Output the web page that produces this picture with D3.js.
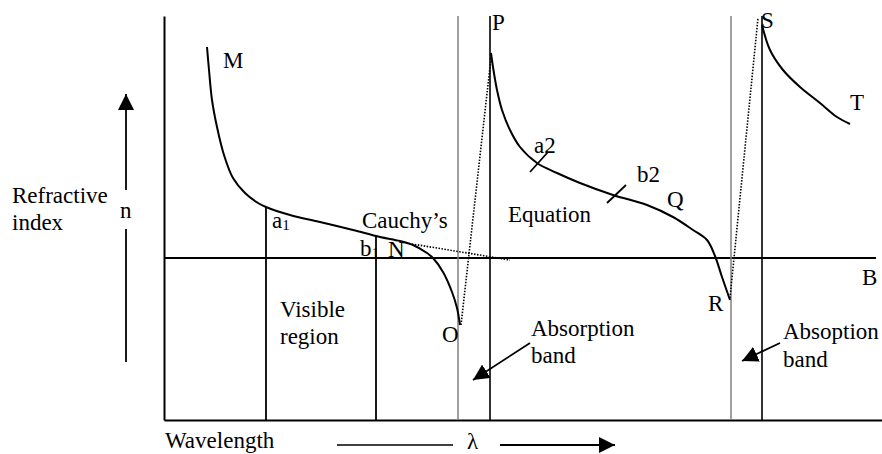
<!DOCTYPE html>
<html><head><meta charset="utf-8">
<script src="https://cdn.jsdelivr.net/npm/d3@7"></script>
<style>
html,body{margin:0;padding:0;background:#fff;}
svg{display:block;}
text{font-family:"Liberation Serif","Times New Roman",serif;font-size:23px;fill:#000;}
</style></head>
<body>
<script>
// ---- data (λ, n) in arbitrary schematic units ----
const curveMN_O = [[43,373],[45,350],[48,320],[53,293],[60,265],[69,242],[81,227],[94,217],[102,213],[126,205],[156,198],[189,190],[216,183],[236,179],[249,175],[263,167],[269,162],[279,148],[288,128],[293,112],[296,95]];
const curvePQR = [[327,367],[329,353],[333,330],[338,310],[346,290],[356,273],[373,257],[393,247],[416,237],[449,225],[483,215],[509,203],[529,190],[543,180],[551,164],[558,143],[566,120]];
const curveST = [[598,395],[606,370],[619,350],[636,333],[656,317],[673,303],[686,296]];
const cauchyExtension = [[236,178],[346,160]];
const jumpOP = [[297,95],[327,362]];
const jumpRS = [[566,122],[594,402]];
const baselineN = 162;                       // horizontal reference line
const verticalMarks = [{l:102,top:213,gray:false},{l:212,top:184,gray:false}];
const bandEdges = [{l:294,gray:true},{l:326,gray:false},{l:567,gray:true},{l:598,gray:false}];
const tickMarks = [[[366,248],[384,268]],[[443,217],[462,235]]];

const W = 882, H = 454;
const x = d3.scaleLinear().domain([0,712]).range([164,876]);
const y = d3.scaleLinear().domain([0,404]).range([420,16]);

const svg = d3.select("body").append("svg").attr("width",W).attr("height",H);
const defs = svg.append("defs");
defs.append("marker").attr("id","ah").attr("viewBox","0 0 10 10").attr("refX",10).attr("refY",5)
  .attr("markerWidth",16).attr("markerHeight",16).attr("markerUnits","userSpaceOnUse").attr("orient","auto")
  .append("path").attr("d","M0,0 L10,5 L0,10 Z").attr("fill","#000");

// axes (no ticks)
svg.append("g").attr("transform",`translate(${x(0)},0)`)
  .call(d3.axisLeft(y).tickValues([]).tickSizeOuter(0))
  .select(".domain").attr("stroke","#000").attr("stroke-width",2);
svg.append("g").attr("transform",`translate(0,${y(0)})`)
  .call(d3.axisBottom(x.copy().domain([0,718]).range([164,882])).tickValues([]).tickSizeOuter(0))
  .select(".domain").attr("stroke","#000").attr("stroke-width",2);
// horizontal reference line
svg.append("line").attr("x1",x(0)).attr("x2",x(712)).attr("y1",y(baselineN)).attr("y2",y(baselineN))
  .attr("stroke","#000").attr("stroke-width",1.8);

// band edges
svg.selectAll(".band").data(bandEdges).join("line")
  .attr("x1",d=>x(d.l)).attr("x2",d=>x(d.l)).attr("y1",y(404)).attr("y2",y(0))
  .attr("stroke",d=>d.gray?"#808080":"#000").attr("stroke-width",d=>d.gray?1.5:1.6);
// visible region marks
svg.selectAll(".vm").data(verticalMarks).join("line")
  .attr("x1",d=>x(d.l)).attr("x2",d=>x(d.l)).attr("y1",d=>y(d.top)).attr("y2",y(0))
  .attr("stroke","#000").attr("stroke-width",1.8);

const line = d3.line().x(d=>x(d[0])).y(d=>y(d[1])).curve(d3.curveCatmullRom.alpha(0.5));
[curveMN_O,curvePQR,curveST].forEach(c=>{
  svg.append("path").attr("d",line(c)).attr("fill","none").attr("stroke","#000").attr("stroke-width",2);
});
const straight = d3.line().x(d=>x(d[0])).y(d=>y(d[1]));
[cauchyExtension,jumpOP,jumpRS].forEach(c=>{
  svg.append("path").attr("d",straight(c)).attr("fill","none").attr("stroke","#000")
    .attr("stroke-width",1.6).attr("stroke-dasharray","1.5,1.5");
});
tickMarks.forEach(c=>{
  svg.append("path").attr("d",straight(c)).attr("fill","none").attr("stroke","#000").attr("stroke-width",1.8);
});

// labels
const labels = [
  ["M",223,68],["P",492,30],["S",761,28],["T",850,110],["a2",534,153],["b2",637,182],["Q",667,207],
  ["Equation",508,222],["Cauchy’s",362,228],["N",388,257],["B",862,285],["R",708,311],["O",442,342],
  ["Visible",280,317],["region",280,344],["Absorption",531,336],["band",531,363],
  ["Absoption",783,339],["band",783,367],["Refractive",12,203],["index",12,230],["n",120,218],
  ["Wavelength",165,448],["λ",467,449]
];
svg.selectAll(".lbl").data(labels).join("text").attr("x",d=>d[1]).attr("y",d=>d[2]).text(d=>d[0]);
const sub = [["a",272,228],["b",360,256]];
sub.forEach(s=>{
  const t = svg.append("text").attr("x",s[1]).attr("y",s[2]).text(s[0]);
  t.append("tspan").attr("font-size","15px").attr("dy",2).text("1");
});

// arrows
const arrows = [[[126,362],[126,94]],[[337,445],[453,445]],[[500,445],[615,445]],[[530,343],[473,380]],[[780,343],[742,361]]];
arrows.forEach((a,i)=>{
  const l = svg.append("line").attr("x1",a[0][0]).attr("y1",a[0][1]).attr("x2",a[1][0]).attr("y2",a[1][1])
    .attr("stroke","#000").attr("stroke-width",i===1?1.5:1.8);
  if(i!==1) l.attr("marker-end","url(#ah)");
});
// gap in vertical arrow for "n"
svg.append("rect").attr("x",118).attr("y",190).attr("width",16).attr("height",39).attr("fill","#fff");
svg.append("text").attr("x",120).attr("y",218).text("n");
</script>
</body></html>
